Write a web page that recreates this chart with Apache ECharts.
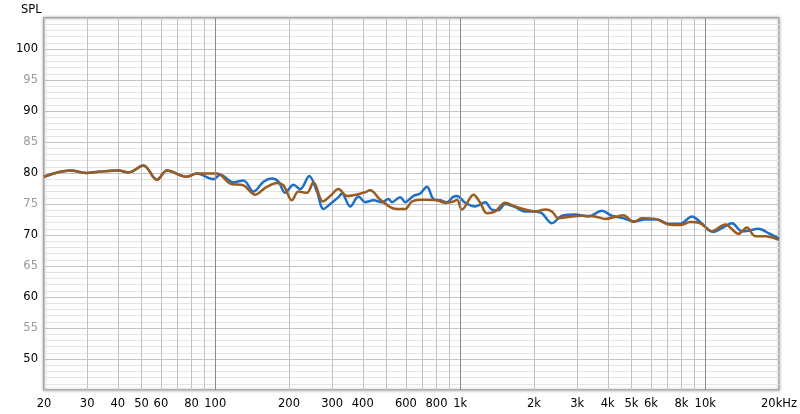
<!DOCTYPE html>
<html>
<head>
<meta charset="utf-8">
<script src="https://cdn.jsdelivr.net/npm/echarts@6/dist/echarts.min.js"></script>
<style>
html,body{margin:0;padding:0;background:#fff;}
#chart{width:800px;height:414px;}
</style>
</head>
<body>
<div id="chart"></div>
<script>
// Frequency (Hz) and SPL (dB)
const freqBlue = [20, 25.6, 29.9, 33.4, 40.3, 44.3, 50.9, 57.8, 63.5, 76.6, 84, 98.4, 104.8, 118.7, 130.4, 143.3, 157.4, 170.3, 181.2, 193, 208.6, 222.2, 241.8, 260, 276.6, 294.6, 318.4, 328.8, 355.4, 384.4, 409.2, 442.6, 479, 509.6, 526, 568.8, 596, 644.6, 686.4, 731, 777.8, 828.4, 882.2, 938.6, 970, 1048, 1151, 1264, 1346, 1432, 1525, 1676, 1841, 2023, 2154, 2366, 2600, 2946, 3338, 3786, 4160, 4638, 5094, 5688, 6348, 7080, 7904, 8822, 9538, 10806, 11694, 12850, 14116, 15018, 16498, 18120, 20000];
const splBlue = [79.4, 80.4, 80.0, 80.2, 80.4, 80.1, 81.2, 78.9, 80.4, 79.4, 79.9, 79.0, 79.7, 78.5, 78.8, 77.0, 78.6, 79.1, 78.6, 76.8, 78.1, 77.4, 79.5, 77.0, 74.2, 75.0, 76.1, 76.7, 74.6, 76.2, 75.3, 75.6, 75.3, 75.8, 75.3, 76.1, 75.3, 76.3, 76.7, 77.8, 75.8, 75.6, 75.3, 76.2, 76.3, 75.2, 74.6, 75.3, 74.1, 74.0, 75.0, 74.5, 73.8, 73.8, 73.5, 71.9, 73.1, 73.3, 73.0, 73.9, 73.1, 72.7, 72.2, 72.5, 72.5, 71.8, 71.8, 73.0, 72.1, 70.5, 71.1, 71.9, 70.6, 70.7, 71.0, 70.3, 69.4];

const freqBrown = [20, 25.6, 29.9, 33.4, 40.3, 44.3, 50.9, 57.8, 63.5, 76.6, 84, 101.6, 115.1, 130.4, 145.6, 159.9, 178.5, 189.9, 205.5, 218.6, 236.6, 251.8, 275.1, 294.6, 318.4, 344.6, 402.8, 429, 471.2, 517.8, 551.2, 596, 634.8, 686.4, 731, 803, 868.2, 938.6, 970, 1016, 1133, 1206, 1285, 1389, 1525, 1676, 1841, 2023, 2222, 2366, 2518, 2766, 3138, 3556, 3906, 4290, 4638, 5094, 5512, 6248, 7080, 7904, 8684, 9538, 10642, 12062, 13668, 14792, 15990, 17570, 20000];
const splBrown = [79.4, 80.4, 80.0, 80.2, 80.4, 80.1, 81.2, 78.9, 80.4, 79.4, 79.9, 79.9, 78.3, 78.0, 76.5, 77.6, 78.4, 78.0, 75.6, 77.0, 76.8, 78.5, 75.4, 76.3, 77.4, 76.3, 76.8, 77.2, 75.7, 74.5, 74.2, 74.2, 75.4, 75.7, 75.7, 75.6, 75.2, 75.4, 75.7, 74.1, 76.5, 75.2, 73.5, 73.8, 75.2, 74.6, 74.1, 73.8, 74.1, 73.8, 72.7, 72.9, 73.1, 73.0, 72.6, 72.9, 73.2, 72.1, 72.7, 72.6, 71.7, 71.6, 72.1, 71.9, 70.6, 71.7, 70.2, 71.2, 69.8, 69.8, 69.2];

const xGridTicks = [20, 30, 40, 50, 60, 70, 80, 90, 100, 200, 300, 400, 500, 600, 700, 800, 900, 1000, 2000, 3000, 4000, 5000, 6000, 7000, 8000, 9000, 10000, 20000];
const xLabelTicks = [20, 30, 40, 50, 60, 80, 100, 200, 300, 400, 600, 800, 1000, 2000, 3000, 4000, 5000, 6000, 8000, 10000, 20000];
const decadeLines = [100, 1000, 10000];

const chart = echarts.init(document.getElementById('chart'));
const FONT = 'DejaVu Sans';

chart.setOption({
  animation: false,
  backgroundColor: '#fff',
  textStyle: { fontFamily: FONT },
  title: {
    text: 'SPL', left: 16, top: -1,
    textStyle: { fontFamily: FONT, fontSize: 11.5, fontWeight: 'normal', color: '#000' }
  },
  grid: {
    left: 44, right: 21, top: 18, bottom: 24,
    show: true, backgroundColor: '#fff',
    borderColor: '#9a9a9a', borderWidth: 1.5,
    shadowColor: 'rgba(0,0,0,0.3)', shadowBlur: 3, shadowOffsetX: 0, shadowOffsetY: 0
  },
  xAxis: {
    type: 'log', logBase: 10, min: 20, max: 20000,
    axisLine: { show: false },
    axisTick: { show: false, customValues: xGridTicks },
    axisLabel: {
      customValues: xLabelTicks,
      margin: 8, fontSize: 11.5, color: '#000', fontFamily: FONT,
      formatter: function (v) {
        v = Math.round(v);
        if (v === 20000) return '20kHz';
        if (v >= 1000) return (v / 1000) + 'k';
        return String(v);
      }
    },
    splitLine: { show: true, lineStyle: { color: '#c2c2c2', width: 1 } },
    minorSplitLine: { show: false }
  },
  yAxis: {
    type: 'value', min: 45, max: 105, interval: 5,
    axisLine: { show: false },
    axisTick: { show: false },
    axisLabel: {
      margin: 6, fontSize: 11.5, fontFamily: FONT,
      formatter: function (v) {
        if (v < 50 || v > 100) return '';
        return v % 10 === 0 ? '{a|' + v + '}' : '{b|' + v + '}';
      },
      rich: {
        a: { color: '#000', fontSize: 11.5, fontFamily: FONT },
        b: { color: '#9a9a9a', fontSize: 11.5, fontFamily: FONT }
      }
    },
    splitLine: { show: true, lineStyle: { color: '#c4c4c4', width: 1 } },
    minorTick: { show: false, splitNumber: 5 },
    minorSplitLine: { show: true, lineStyle: { color: '#e4e4e4', width: 1 } }
  },
  series: [
    {
      name: 'grid', type: 'line', data: [], z: 1, silent: true,
      markLine: {
        silent: true, symbol: 'none', animation: false,
        label: { show: false },
        lineStyle: { color: '#8a8a8a', type: 'solid', width: 1 },
        data: decadeLines.map(v => ({ xAxis: v }))
      }
    },
    {
      name: 'Blue', type: 'line', z: 3,
      data: freqBlue.map((f, i) => [f, splBlue[i]]),
      smooth: 0.35, showSymbol: false,
      lineStyle: { color: '#1f6fc6', width: 2.5 }
    },
    {
      name: 'Brown', type: 'line', z: 4,
      data: freqBrown.map((f, i) => [f, splBrown[i]]),
      smooth: 0.35, showSymbol: false,
      lineStyle: { color: '#9c5b1f', width: 2.5 }
    }
  ]
});
</script>
</body>
</html>
